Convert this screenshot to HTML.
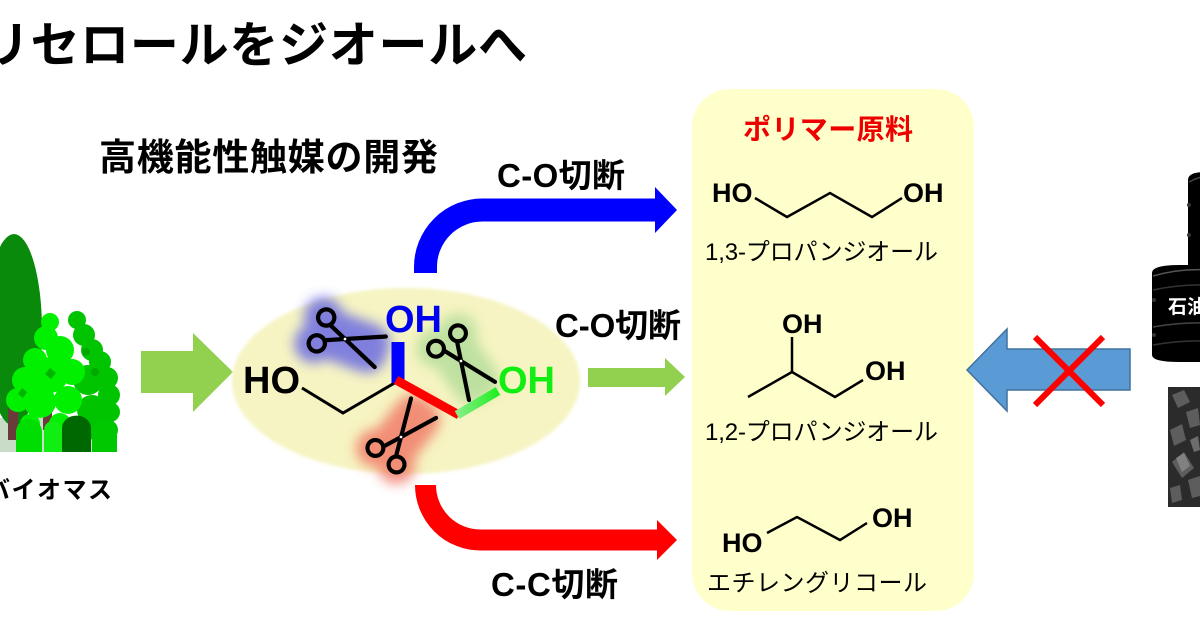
<!DOCTYPE html>
<html><head><meta charset="utf-8"><style>
html,body{margin:0;padding:0;background:#fff;}
svg{display:block;}
text{font-family:"Liberation Sans","Noto Sans CJK JP",sans-serif;}
</style></head><body>
<svg width="1200" height="625" viewBox="0 0 1200 625" xmlns="http://www.w3.org/2000/svg">
<defs>
<filter id="blur" x="-50%" y="-50%" width="200%" height="200%"><feGaussianBlur stdDeviation="6"/></filter>
<filter id="soft" x="-10%" y="-10%" width="120%" height="120%"><feGaussianBlur stdDeviation="1.5"/></filter>
<linearGradient id="gb" x1="0" y1="0" x2="1" y2="0"><stop offset="0" stop-color="#88ee88"/><stop offset="1" stop-color="#22ee22"/></linearGradient>
<g id="sc" fill="none" stroke="#000" stroke-width="3.4" stroke-linecap="round">
<circle cx="-20" cy="-11" r="6.5"/>
<circle cx="-20" cy="11" r="6.5"/>
<path d="M-15,-6.5 L30,13"/>
<path d="M-15,6.5 L30,-13"/>
<circle cx="0" cy="0" r="1.1" fill="#fff" stroke="none"/>
</g>
<g id="glow">
<circle cx="-20" cy="-11" r="15"/>
<circle cx="-20" cy="11" r="15"/>
<rect x="-24" y="-19" width="60" height="38" rx="15"/>
</g>
</defs>
<rect width="1200" height="625" fill="#fff"/>

<!-- Title -->
<text x="-69" y="62" font-size="49" font-weight="bold" textLength="596" lengthAdjust="spacing">グリセロールをジオールへ</text>
<text x="99" y="170" font-size="37" font-weight="bold" textLength="339" lengthAdjust="spacing">高機能性触媒の開発</text>

<!-- Trees -->
<g>
<rect x="0" y="418" width="96" height="34" fill="#c8dcc8"/>
<ellipse cx="14" cy="330" rx="28" ry="96" fill="#0a8a0a"/>
<rect x="8" y="405" width="10" height="35" fill="#6b3b3b"/>
<rect x="43" y="405" width="9" height="25" fill="#6b3b3b"/>
<g fill="#00c400">
<circle cx="77" cy="320" r="9"/><circle cx="84" cy="335" r="11"/><circle cx="92" cy="350" r="11"/><circle cx="100" cy="362" r="11"/><circle cx="107" cy="378" r="11"/><circle cx="109" cy="395" r="11"/><circle cx="110" cy="412" r="10"/><circle cx="108" cy="430" r="10"/><circle cx="88" cy="380" r="15"/><circle cx="92" cy="410" r="15"/><circle cx="84" cy="430" r="12"/>
</g>
<g fill="#00a800"><circle cx="86" cy="352" r="4"/><circle cx="95" cy="372" r="4"/></g>
<g fill="#00f000">
<circle cx="50" cy="322" r="9"/><circle cx="46" cy="338" r="12"/><circle cx="60" cy="350" r="14"/><circle cx="35" cy="360" r="12"/><circle cx="25" cy="380" r="13"/><circle cx="18" cy="400" r="12"/><circle cx="50" cy="375" r="18"/><circle cx="72" cy="372" r="13"/><circle cx="40" cy="402" r="16"/><circle cx="68" cy="400" r="14"/><circle cx="30" cy="424" r="10"/><circle cx="60" cy="424" r="11"/>
</g>
<g fill="#00b400"><path d="M50,368 l6,5 l-5,6 l-6,-5z"/><path d="M22,388 l5,4 l-4,6 l-5,-4z"/></g>
<path d="M16,452 V432 a12,12 0 0 1 26,0 V452z" fill="#00dd00"/>
<path d="M44,452 V430 a9,9 0 0 1 18,0 V452z" fill="#11ee11"/>
<path d="M62,452 V428 a14,12 0 0 1 29,0 V452z" fill="#006800"/>
<path d="M92,452 V432 a12,12 0 0 1 25,0 V452z" fill="#00c800"/>
</g>
<text x="-14" y="498" font-size="24" font-weight="bold" textLength="126" lengthAdjust="spacing">バイオマス</text>

<!-- green arrow left -->
<polygon points="141,351 193,351 193,333 233,372 193,412 193,393 141,393" fill="#92d050"/>

<!-- ellipse -->
<ellipse cx="406" cy="381" rx="174" ry="93" fill="#f6f4c2" filter="url(#soft)"/>

<!-- glows -->
<g filter="url(#blur)" opacity="0.8">
<use href="#glow" transform="translate(343,339) rotate(20) scale(1.3)" fill="#6464e4"/>
<use href="#glow" transform="translate(461,361) rotate(55) scale(1.25)" fill="#b0dc98"/>
<use href="#glow" transform="translate(401,437) rotate(-52) scale(1.25)" fill="#f07464"/>
</g>

<!-- glycerol -->
<polyline points="302,388 343,413 398,381" fill="none" stroke="#000" stroke-width="3"/>
<line x1="398" y1="342" x2="398" y2="383" stroke="#0000ff" stroke-width="13"/>
<line x1="396" y1="380" x2="459" y2="415" stroke="#ff0000" stroke-width="9"/>
<line x1="457" y1="415" x2="498" y2="391" stroke="url(#gb)" stroke-width="9"/>
<text x="243" y="393" font-size="38" font-weight="bold">HO</text>
<text x="385" y="332" font-size="38" font-weight="bold" fill="#0000f0">OH</text>
<text x="498" y="393" font-size="38" font-weight="bold" fill="#11ee11">OH</text>

<!-- scissors -->
<use href="#sc" transform="translate(345,339) rotate(20) scale(1.25)"/>
<use href="#sc" transform="translate(461,361) rotate(55) scale(1.22)"/>
<use href="#sc" transform="translate(401,437) rotate(-52) scale(1.22)"/>

<!-- blue arrow -->
<path d="M425.5,273 L425.5,267 A57,57 0 0 1 482.5,210 L656,210" fill="none" stroke="#0000ff" stroke-width="23"/>
<polygon points="655,187 677,210 655,233" fill="#0000ff"/>
<!-- red arrow -->
<path d="M425.5,485 A55,55 0 0 0 480.5,540 L658,540" fill="none" stroke="#ff0000" stroke-width="21"/>
<polygon points="657,520 677,540 657,560" fill="#ff0000"/>
<!-- middle green arrow -->
<polygon points="588,368 665,368 665,358 685,377 665,396 665,387 588,387" fill="#92d050"/>

<text x="497" y="187" font-size="33" font-weight="bold" textLength="128" lengthAdjust="spacing">C-O切断</text>
<text x="555" y="337" font-size="33" font-weight="bold" textLength="126" lengthAdjust="spacing">C-O切断</text>
<text x="491" y="596" font-size="33" font-weight="bold" textLength="127" lengthAdjust="spacing">C-C切断</text>

<!-- yellow box -->
<rect x="692" y="89" width="282" height="522" rx="38" fill="#ffffcc"/>
<text x="743" y="139" font-size="28" font-weight="bold" fill="#ee0000" textLength="170" lengthAdjust="spacing">ポリマー原料</text>

<text x="712" y="202" font-size="27" font-weight="bold">HO</text>
<text x="903" y="202" font-size="27" font-weight="bold">OH</text>
<polyline points="755,198 787,217 830,193 872,217 902,198" fill="none" stroke="#000" stroke-width="2.5"/>
<text x="705" y="260" font-size="24" textLength="233" lengthAdjust="spacing">1,3-プロパンジオール</text>

<text x="782" y="333" font-size="27" font-weight="bold">OH</text>
<text x="865" y="380" font-size="27" font-weight="bold">OH</text>
<line x1="792" y1="337" x2="792" y2="372" stroke="#000" stroke-width="2.5"/>
<polyline points="748,397 792,372 835,397 863,380" fill="none" stroke="#000" stroke-width="2.5"/>
<text x="705" y="440" font-size="24" textLength="233" lengthAdjust="spacing">1,2-プロパンジオール</text>

<text x="722" y="552" font-size="27" font-weight="bold">HO</text>
<text x="872" y="527" font-size="27" font-weight="bold">OH</text>
<polyline points="767,533 797,517 840,540 867,523" fill="none" stroke="#000" stroke-width="2.5"/>
<text x="707" y="591" font-size="24" textLength="220" lengthAdjust="spacing">エチレングリコール</text>

<!-- blue left arrow with X -->
<polygon points="967,370 1007,329 1007,349 1130,349 1130,390 1007,390 1007,411" fill="#5b9bd5" stroke="#41719c" stroke-width="1.5"/>
<line x1="1035" y1="337" x2="1103" y2="405" stroke="#ff0000" stroke-width="6"/>
<line x1="1103" y1="337" x2="1035" y2="405" stroke="#ff0000" stroke-width="6"/>

<!-- barrels -->
<path d="M1188,180 Q1188,172 1205,172 L1210,172 L1210,345 L1188,345 Z" fill="#000"/>
<path d="M1189,182 Q1200,176 1210,176" stroke="#444" stroke-width="1.5" fill="none"/>
<circle cx="1189" cy="205" r="2" fill="#333"/><circle cx="1189" cy="235" r="2" fill="#333"/>
<path d="M1152,273 Q1152,265 1180,265 L1210,265 L1210,362 L1180,362 Q1152,362 1152,355 Z" fill="#000"/>
<path d="M1153,276 Q1180,268 1210,270" stroke="#555" stroke-width="1.5" fill="none"/>
<path d="M1153,290 Q1180,284 1210,285" stroke="#333" stroke-width="1.5" fill="none"/>
<path d="M1153,327 Q1180,322 1210,323" stroke="#444" stroke-width="1.5" fill="none"/>
<path d="M1153,345 Q1180,340 1210,341" stroke="#333" stroke-width="1.5" fill="none"/>
<circle cx="1154" cy="300" r="2" fill="#333"/><circle cx="1154" cy="335" r="2" fill="#333"/>
<text x="1168" y="313" font-size="19" font-weight="bold" fill="#fff">石油</text>

<!-- coal -->
<rect x="1168" y="387" width="32" height="120" fill="#2b2b2b"/>
<g fill="#6a6a6a" opacity="0.8">
<polygon points="1172,395 1184,390 1190,402 1178,408"/>
<polygon points="1186,412 1198,408 1200,425 1190,428"/>
<polygon points="1170,430 1182,424 1186,440 1174,446"/>
<polygon points="1172,462 1184,452 1194,468 1182,478"/>
<polygon points="1188,480 1200,476 1200,496 1192,498"/>
<polygon points="1170,488 1180,485 1182,500 1172,503"/>
</g>
<g fill="#999" opacity="0.6">
<polygon points="1176,458 1184,453 1190,466 1182,472"/>
<polygon points="1190,440 1198,436 1200,450 1194,452"/>
</g>
</svg>
</body></html>
